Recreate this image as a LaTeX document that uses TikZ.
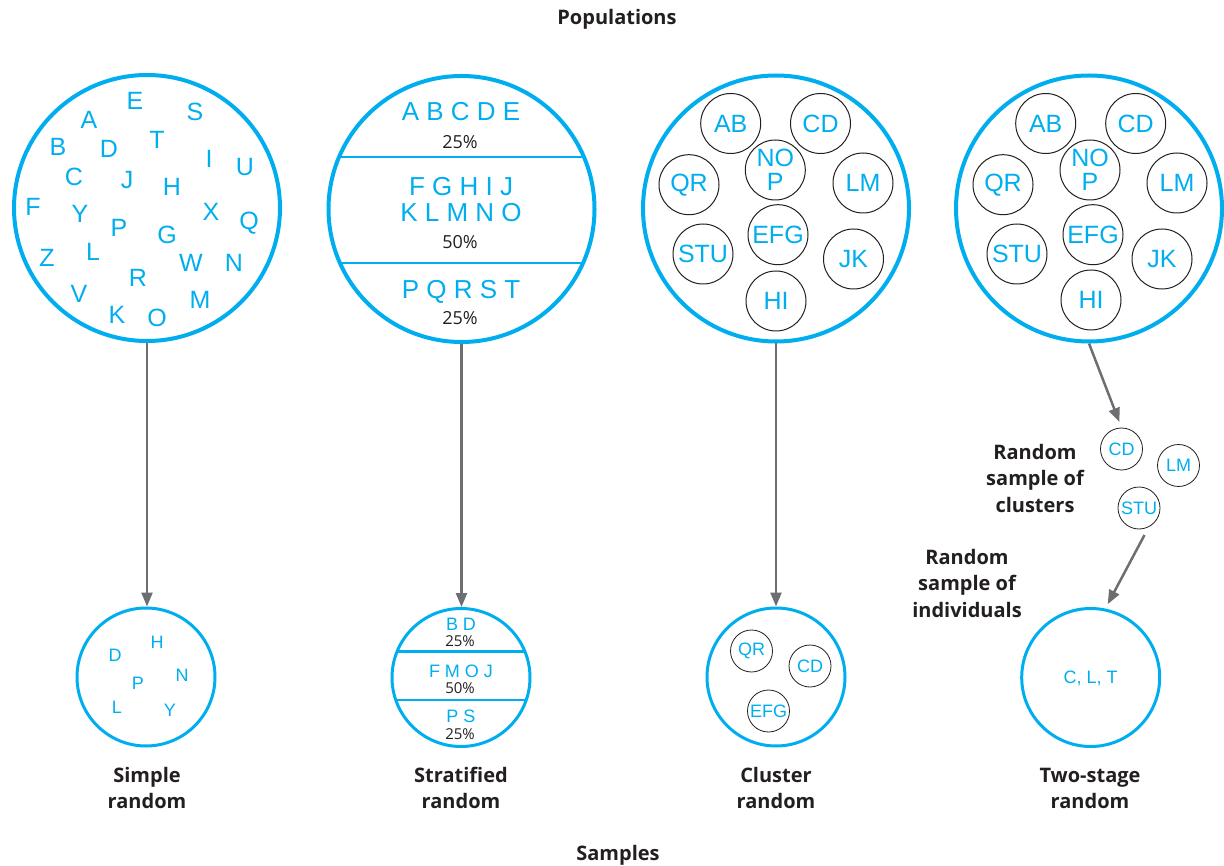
\documentclass[tikz,border=0pt]{standalone}
\usepackage{fontspec}
\setmainfont{Liberation Sans}
\newfontfamily\labfont{Open Sans}
\usetikzlibrary{arrows.meta}
\definecolor{cyanb}{HTML}{00AEEF}
\definecolor{arrowgray}{HTML}{6D6E71}
\definecolor{darktext}{HTML}{231F20}
\begin{document}
\begin{tikzpicture}[x=1pt,y=-1pt,
  bigring/.style={circle, draw=cyanb, line width=4pt, minimum size=266pt, inner sep=0pt},
  smallring/.style={circle, draw=cyanb, line width=3pt, minimum size=138pt, inner sep=0pt},
  divider/.style={draw=cyanb, line width=2.6pt},
  bigletter/.style={text=cyanb, font=\fontsize{25}{25}\selectfont, inner sep=0pt},
  strat/.style={text=cyanb, font=\fontsize{26}{26}\selectfont, inner sep=0pt},
  smallletter/.style={text=cyanb, font=\fontsize{18}{18}\selectfont, inner sep=0pt},
  sstrat/.style={text=cyanb, font=\fontsize{18}{18}\selectfont, inner sep=0pt},
  pct/.style={text=darktext, font=\labfont\fontsize{18}{18}\selectfont, inner sep=0pt},
  spct/.style={text=darktext, font=\labfont\fontsize{15}{15}\selectfont, inner sep=0pt},
  cl/.style={circle, draw=darktext, line width=1pt, minimum size=60pt, inner sep=0pt,
    text=cyanb, font=\fontsize{25}{25}\selectfont, align=center},
  scl/.style={circle, draw=darktext, line width=0.8pt, minimum size=42pt, inner sep=0pt,
    text=cyanb, font=\fontsize{18}{18}\selectfont},
  lab/.style={text=darktext, font=\labfont\bfseries\fontsize{20}{26}\selectfont, align=center, inner sep=0pt},
  arr/.style={draw=arrowgray, line width=2.5pt, -{Triangle[length=14pt,width=11pt]}}
]
\useasboundingbox (0,0) rectangle (1224,866);

% titles
\node[lab] (poptitle) at (617,19) {Populations};
\node[lab] (samptitle) at (618,855) {Samples};

% ---------- population 1: simple random
\node[bigring] (pop1) at (147,208) {};
\foreach \t/\x/\y in {E/135/101, S/195/112, A/89/120, T/157/140, B/58/147, D/109/149,
  I/209/159, U/245/167, C/74/177, J/127/180, H/172/187, F/33/207, Y/80/214, X/211/212,
  Q/249/223, P/119/228, G/167/235, Z/47/258, L/93/252, W/191/263, N/234/263, R/138/278,
  V/79/294, M/200/300, K/117/315, O/157/318}
  \node[bigletter] (p1\t) at (\x,\y) {\t};

% ---------- population 2: stratified
\begin{scope}
  \clip (461.5,209) circle (133);
  \draw[divider] (300,157) -- (620,157);
  \draw[divider] (300,263) -- (620,263);
\end{scope}
\node[bigring] (pop2) at (461.5,209) {};
\node[strat] (s1) at (461,112) {A B C D E};
\node[pct] (s1p) at (460,142) {25\%};
\node[strat] (s2a) at (461,187) {F G H I J};
\node[strat] (s2b) at (461,213) {K L M N O};
\node[pct] (s2p) at (460,242) {50\%};
\node[strat] (s3) at (461,292) {P Q R S T};
\node[pct] (s3p) at (460,318) {25\%};

% ---------- population 3: cluster
\node[bigring] (pop3) at (776,208.5) {};
\node[cl] (ab1) at (730.7,123.5) {AB};
\node[cl] (cd1) at (820.5,123.5) {CD};
\node[cl] (nop1) at (775.3,170) {NO\\[-1pt]P};
\node[cl] (qr1) at (689,184.7) {QR};
\node[cl] (lm1) at (863,183) {LM};
\node[cl] (efg1) at (778,234.7) {EFG};
\node[cl] (stu1) at (703,254) {STU};
\node[cl] (jk1) at (853.5,259) {JK};
\node[cl] (hi1) at (776,301) {HI};

% ---------- population 4: two-stage
\node[bigring] (pop4) at (1089,208.5) {};
\node[cl] (ab2) at (1045.7,123.5) {AB};
\node[cl] (cd2) at (1135.7,123.5) {CD};
\node[cl] (nop2) at (1090,170) {NO\\[-1pt]P};
\node[cl] (qr2) at (1003,184.7) {QR};
\node[cl] (lm2) at (1177,183) {LM};
\node[cl] (efg2) at (1093,234.7) {EFG};
\node[cl] (stu2) at (1017,254) {STU};
\node[cl] (jk2) at (1162,259) {JK};
\node[cl] (hi2) at (1091,300) {HI};

% ---------- samples
\node[smallring] (samp1) at (146,677) {};
\node[smallletter] (q1D) at (115,655) {D};
\node[smallletter] (q1H) at (157,642) {H};
\node[smallletter] (q1N) at (182,675) {N};
\node[smallletter] (q1P) at (138,683) {P};
\node[smallletter] (q1L) at (117,707) {L};
\node[smallletter] (q1Y) at (170,710) {Y};

\begin{scope}
  \clip (461,677.5) circle (69);
  \draw[divider] (380,651.7) -- (540,651.7);
  \draw[divider] (380,700) -- (540,700);
\end{scope}
\node[smallring] (samp2) at (461,677.5) {};
\node[sstrat] (t1) at (461,624) {B D};
\node[spct] (t1p) at (460,641.5) {25\%};
\node[sstrat] (t2) at (461,671.5) {F M O J};
\node[spct] (t2p) at (460,688) {50\%};
\node[sstrat] (t3) at (461,716.5) {P S};
\node[spct] (t3p) at (460,734) {25\%};

\node[smallring] (samp3) at (776,677) {};
\node[scl] (qr3) at (751.5,651) {QR};
\node[scl] (cd3) at (810,666) {CD};
\node[scl] (efg3) at (768.5,711) {EFG};

\node[smallring] (samp4) at (1090.7,677.5) {};
\node[sstrat] (clt) at (1090.7,678) {C, L, T};

% intermediate clusters
\node[scl] (cd4) at (1121.5,449) {CD};
\node[scl] (lm4) at (1178.5,465.5) {LM};
\node[scl] (stu4) at (1139,508) {STU};

% labels
\node[lab] (l1) at (147,788) {Simple\\random};
\node[lab] (l2) at (461,788) {Stratified\\random};
\node[lab] (l3) at (776,788) {Cluster\\random};
\node[lab] (l4) at (1090,788) {Two-stage\\random};
\node[lab, font=\labfont\bfseries\fontsize{20}{26.5}\selectfont] (lc) at (1035,478) {Random\\sample of\\clusters};
\node[lab, font=\labfont\bfseries\fontsize{20}{26.5}\selectfont] (li) at (967,583) {Random\\sample of\\individuals};

% arrows
\draw[arr] (pop1.south) -- (pop1.south |- samp1.north);
\draw[arr] (pop2.south) -- (pop2.south |- samp2.north);
\draw[arr] (pop3.south) -- (pop3.south |- samp3.north);
\draw[arr, shorten >=6pt] (pop4.south) -- (cd4.north);
\draw[arr, shorten <=9pt, shorten >=5pt] (stu4.-63) -- (samp4.78);
\end{tikzpicture}
\end{document}
